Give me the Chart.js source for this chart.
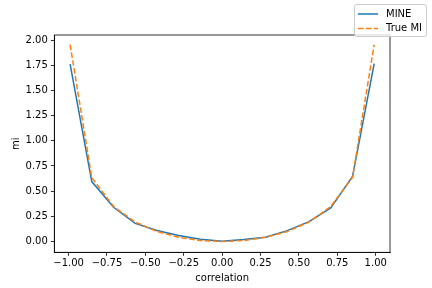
<!DOCTYPE html>
<html>
<head>
<meta charset="utf-8">
<script src="https://cdn.jsdelivr.net/npm/chart.js@4/dist/chart.umd.min.js"></script>
<style>
  html, body { margin: 0; padding: 0; background: #fff; }
  #wrap { width: 432px; height: 288px; position: relative; }
</style>
</head>
<body>
<div id="wrap"><canvas id="c" width="432" height="288"></canvas></div>
<script>
const correlation = [-0.99, -0.849, -0.707, -0.566, -0.424, -0.283, -0.141, 0, 0.141, 0.283, 0.424, 0.566, 0.707, 0.849, 0.99];
const mine   = [1.76, 0.595, 0.34, 0.18, 0.11, 0.06, 0.022, 0.003, 0.02, 0.043, 0.108, 0.197, 0.333, 0.645, 1.765];
const trueMI = [1.955, 0.635, 0.347, 0.193, 0.099, 0.042, 0.01, 0.0, 0.01, 0.042, 0.099, 0.193, 0.347, 0.637, 1.955];
const xTicks = [-1.0, -0.75, -0.5, -0.25, 0, 0.25, 0.5, 0.75, 1.0];
const yTicks = [0, 0.25, 0.5, 0.75, 1.0, 1.25, 1.5, 1.75, 2.0];
const seriesNames = ['MINE', 'True MI'];

const FONT = 'DejaVu Sans';
const fmt = v => { const s = Math.abs(v).toFixed(2); return (v < -1e-9 ? '\u2212' : '') + s; };

const frame = {
  id: 'frame',
  afterDatasetsDraw(chart) {
    const {ctx, chartArea: a} = chart;
    ctx.save();
    ctx.strokeStyle = '#000';
    ctx.lineWidth = 0.8;
    ctx.strokeRect(a.left, a.top, a.right - a.left, a.bottom - a.top);
    ctx.restore();
  },
  afterDraw(chart) {
    const ctx = chart.ctx;
    ctx.save();
    const bx = 354.5, by = 4.5, bw = 72, bh = 32, r = 2.5;
    ctx.beginPath();
    ctx.moveTo(bx + r, by);
    ctx.lineTo(bx + bw - r, by); ctx.quadraticCurveTo(bx + bw, by, bx + bw, by + r);
    ctx.lineTo(bx + bw, by + bh - r); ctx.quadraticCurveTo(bx + bw, by + bh, bx + bw - r, by + bh);
    ctx.lineTo(bx + r, by + bh); ctx.quadraticCurveTo(bx, by + bh, bx, by + bh - r);
    ctx.lineTo(bx, by + r); ctx.quadraticCurveTo(bx, by, bx + r, by);
    ctx.closePath();
    ctx.fillStyle = 'rgba(255,255,255,0.8)';
    ctx.fill();
    ctx.strokeStyle = '#cccccc';
    ctx.lineWidth = 1;
    ctx.stroke();
    ctx.lineWidth = 1.5;
    ctx.strokeStyle = '#1f77b4';
    ctx.setLineDash([]);
    ctx.beginPath(); ctx.moveTo(358, 14); ctx.lineTo(378, 14); ctx.stroke();
    ctx.strokeStyle = '#ff7f0e';
    ctx.setLineDash([5.55, 2.4]);
    ctx.beginPath(); ctx.moveTo(358, 28.5); ctx.lineTo(378, 28.5); ctx.stroke();
    ctx.setLineDash([]);
    ctx.fillStyle = '#000';
    ctx.font = '10px "' + FONT + '"';
    ctx.textBaseline = 'middle';
    ctx.textAlign = 'left';
    ctx.fillText(seriesNames[0], 386, 14);
    ctx.fillText(seriesNames[1], 386, 28.5);
    ctx.restore();
  }
};

new Chart(document.getElementById('c'), {
  type: 'scatter',
  data: {
    datasets: [
      {
        label: seriesNames[0],
        data: correlation.map((x, i) => ({x, y: mine[i]})),
        showLine: true, borderColor: '#1f77b4', backgroundColor: '#1f77b4',
        borderWidth: 1.5, pointRadius: 0, order: 1, tension: 0
      },
      {
        label: seriesNames[1],
        data: correlation.map((x, i) => ({x, y: trueMI[i]})),
        showLine: true, borderColor: '#ff7f0e', backgroundColor: '#ff7f0e',
        borderWidth: 1.5, borderDash: [5.55, 2.4], pointRadius: 0, order: 0, tension: 0
      }
    ]
  },
  options: {
    responsive: false,
    animation: false,
    devicePixelRatio: 1,
    layout: { padding: { top: 35, right: 42, left: 0, bottom: 0 } },
    plugins: { legend: { display: false }, tooltip: { enabled: false } },
    scales: {
      x: {
        type: 'linear', min: -1.093, max: 1.093,
        afterBuildTicks: s => { s.ticks = xTicks.map(v => ({value: v})); },
        afterFit: s => { s.height = 35.7; },
        grid: { drawOnChartArea: false, drawTicks: true, tickLength: 3.5, color: '#000', lineWidth: 0.8 },
        border: { display: true, color: '#000', width: 0.8 },
        ticks: { color: '#000', font: { family: FONT, size: 10 }, padding: 2, maxRotation: 0, autoSkip: false, callback: v => fmt(v) },
        title: { display: true, text: 'correlation', color: '#000', font: { family: FONT, size: 10 }, padding: { top: 1, bottom: 4 } }
      },
      y: {
        type: 'linear', min: -0.107, max: 2.05,
        afterBuildTicks: s => { s.ticks = yTicks.map(v => ({value: v})); },
        afterFit: s => { s.width = 54.3; },
        grid: { drawOnChartArea: false, drawTicks: true, tickLength: 3.5, color: '#000', lineWidth: 0.8 },
        border: { display: true, color: '#000', width: 0.8 },
        ticks: { color: '#000', font: { family: FONT, size: 10 }, padding: 3, autoSkip: false, callback: v => fmt(v) },
        title: { display: true, text: 'mi', color: '#000', font: { family: FONT, size: 10 }, padding: { top: 10, bottom: 0 } }
      }
    }
  },
  plugins: [frame]
});
</script>
</body>
</html>
